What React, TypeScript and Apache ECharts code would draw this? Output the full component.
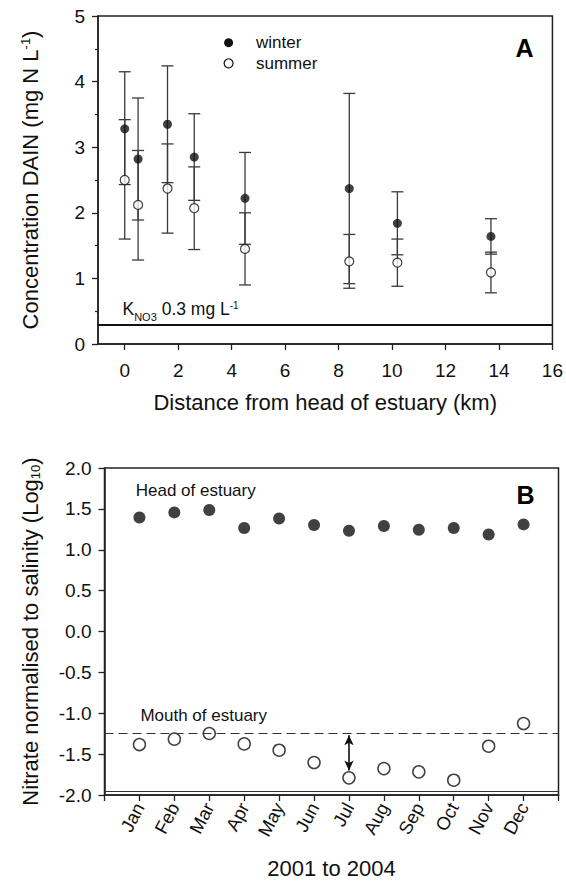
import React, { useEffect, useRef } from "react";
import * as echarts from "echarts";

// Panel A data
const distanceKm = [0, 0.5, 1.6, 2.6, 4.5, 8.4, 10.2, 13.7];
const winterMean = [3.28, 2.82, 3.35, 2.85, 2.22, 2.37, 1.84, 1.64];
const winterLow = [2.43, 1.89, 2.46, 2.19, 1.52, 0.92, 1.36, 1.37];
const winterHigh = [4.15, 3.75, 4.24, 3.51, 2.92, 3.82, 2.32, 1.91];
const summerMean = [2.5, 2.12, 2.37, 2.07, 1.45, 1.26, 1.24, 1.09];
const summerLow = [1.6, 1.28, 1.69, 1.44, 0.9, 0.85, 0.88, 0.78];
const summerHigh = [3.42, 2.95, 3.05, 2.7, 2.0, 1.67, 1.6, 1.4];
const xTicksA = [0, 2, 4, 6, 8, 10, 12, 14, 16];
const kNO3 = 0.3;

// Panel B data
const months = ["Jan", "Feb", "Mar", "Apr", "May", "Jun", "Jul", "Aug", "Sep", "Oct", "Nov", "Dec"];
const headValues = [1.395, 1.457, 1.486, 1.266, 1.383, 1.302, 1.232, 1.29, 1.245, 1.266, 1.187, 1.31];
const mouthValues = [-1.383, -1.317, -1.248, -1.375, -1.452, -1.603, -1.79, -1.677, -1.717, -1.819, -1.403, -1.126];
const mouthReference = -1.245;
const lowerLine = -1.955;
const arrowFrom = -1.27;
const arrowTo = -1.7;

const FONT = "'Liberation Sans', Arial, Helvetica, sans-serif";

function errorBarSeries(name: string, low: number[], high: number[]) {
  return {
    type: "custom",
    name,
    xAxisIndex: 0,
    yAxisIndex: 0,
    silent: true,
    z: 2,
    data: distanceKm.map((d, i) => [d, low[i], high[i]]),
    encode: { x: 0, y: [1, 2] },
    renderItem: (params: any, api: any) => {
      const x = api.value(0);
      const pLo = api.coord([x, api.value(1)]);
      const pHi = api.coord([x, api.value(2)]);
      const hw = 6;
      const style = { stroke: "#3a3a3a", lineWidth: 1.3 };
      return {
        type: "group",
        children: [
          { type: "line", shape: { x1: pLo[0], y1: pLo[1], x2: pHi[0], y2: pHi[1] }, style },
          { type: "line", shape: { x1: pLo[0] - hw, y1: pLo[1], x2: pLo[0] + hw, y2: pLo[1] }, style },
          { type: "line", shape: { x1: pHi[0] - hw, y1: pHi[1], x2: pHi[0] + hw, y2: pHi[1] }, style },
        ],
      };
    },
  };
}

export default function App() {
  const ref = useRef<HTMLDivElement>(null);
  useEffect(() => {
    if (!ref.current) return;
    const chart = echarts.init(ref.current, null, { renderer: "svg" });
    const axisLine = { show: true, onZero: false, lineStyle: { color: "#222", width: 1.5 } };
    const labelStyle = { color: "#111", fontSize: 19, fontFamily: FONT };
    const nameStyle = {
      color: "#111",
      fontSize: 22,
      fontFamily: FONT,
      rich: {
        sup: { fontSize: 13, verticalAlign: "top", fontFamily: FONT, color: "#111" },
        sub: { fontSize: 13, verticalAlign: "bottom", fontFamily: FONT, color: "#111" },
      },
    };
    const option: any = {
      animation: false,
      backgroundColor: "#fff",
      textStyle: { fontFamily: FONT },
      grid: [
        { left: 98, right: 13, top: 16, height: 328, show: true, borderColor: "#222", borderWidth: 1.5 },
        { left: 104.5, right: 7.5, top: 468, height: 327, show: true, borderColor: "#222", borderWidth: 1.5 },
      ],
      xAxis: [
        {
          type: "value",
          gridIndex: 0,
          min: -1,
          max: 16,
          axisLine,
          splitLine: { show: false },
          axisTick: { show: true, length: 6, customValues: xTicksA, lineStyle: { color: "#222", width: 1.3 } },
          axisLabel: { ...labelStyle, margin: 17, customValues: xTicksA },
          name: "Distance from head of estuary (km)",
          nameLocation: "middle",
          nameGap: 47,
          nameTextStyle: nameStyle,
        },
        {
          type: "value",
          gridIndex: 1,
          min: 0,
          max: 13,
          interval: 1,
          axisLine,
          splitLine: { show: false },
          axisTick: { show: true, length: 6, lineStyle: { color: "#222", width: 1.3 } },
          axisLabel: {
            ...labelStyle,
            fontSize: 18.5,
            rotate: 62,
            margin: 9,
            showMinLabel: true,
            showMaxLabel: true,
            formatter: (v: number) => months[Math.round(v) - 1] ?? "",
          },
          name: "2001 to 2004",
          nameLocation: "middle",
          nameGap: 62,
          nameTextStyle: nameStyle,
        },
      ],
      yAxis: [
        {
          type: "value",
          gridIndex: 0,
          min: 0,
          max: 5,
          interval: 1,
          axisLine,
          splitLine: { show: false },
          axisTick: { show: true, length: 6, lineStyle: { color: "#222", width: 1.3 } },
          minorTick: { show: true, splitNumber: 2, length: 3, lineStyle: { color: "#222", width: 1.2 } },
          axisLabel: { ...labelStyle, margin: 13 },
          name: "Concentration DAIN (mg N L{sup|-1})",
          nameLocation: "middle",
          nameGap: 57,
          nameTextStyle: nameStyle,
        },
        {
          type: "value",
          gridIndex: 1,
          min: -2,
          max: 2,
          interval: 0.5,
          axisLine,
          splitLine: { show: false },
          axisTick: { show: true, length: 6, lineStyle: { color: "#222", width: 1.3 } },
          axisLabel: { ...labelStyle, margin: 13, formatter: (v: number) => v.toFixed(1) },
          name: "Nitrate normalised to salinity (Log{sub|10})",
          nameLocation: "middle",
          nameGap: 63,
          nameTextStyle: nameStyle,
        },
      ],
      series: [
        errorBarSeries("winter error", winterLow, winterHigh),
        errorBarSeries("summer error", summerLow, summerHigh),
        {
          type: "scatter",
          name: "winter",
          xAxisIndex: 0,
          yAxisIndex: 0,
          z: 3,
          symbol: "circle",
          symbolSize: 9,
          itemStyle: { color: "#111" },
          data: distanceKm.map((d, i) => [d, winterMean[i]]),
          markLine: {
            silent: true,
            symbol: ["none", "none"],
            label: { show: false },
            lineStyle: { color: "#111", width: 2, type: "solid" },
            data: [{ yAxis: kNO3 }],
          },
        },
        {
          type: "scatter",
          name: "summer",
          xAxisIndex: 0,
          yAxisIndex: 0,
          z: 4,
          symbol: "circle",
          symbolSize: 9,
          itemStyle: { color: "#fff", borderColor: "#111", borderWidth: 1.2 },
          data: distanceKm.map((d, i) => [d, summerMean[i]]),
        },
        {
          type: "scatter",
          name: "Head of estuary",
          xAxisIndex: 1,
          yAxisIndex: 1,
          symbol: "circle",
          symbolSize: 12,
          itemStyle: { color: "#111" },
          data: months.map((m, i) => [i + 1, headValues[i]]),
        },
        {
          type: "scatter",
          name: "Mouth of estuary",
          xAxisIndex: 1,
          yAxisIndex: 1,
          z: 4,
          symbol: "circle",
          symbolSize: 12,
          itemStyle: { color: "#fff", borderColor: "#111", borderWidth: 1.5 },
          data: months.map((m, i) => [i + 1, mouthValues[i]]),
          markLine: {
            silent: true,
            label: { show: false },
            symbol: ["none", "none"],
            data: [
              { yAxis: mouthReference, lineStyle: { color: "#333", width: 1.2, type: [9, 5] } },
              { yAxis: lowerLine, lineStyle: { color: "#333", width: 1, type: "solid" } },
              [
                { coord: [7, arrowFrom], symbol: "arrow", symbolSize: [7, 10], lineStyle: { color: "#111", width: 1.6, type: "solid" } },
                { coord: [7, arrowTo], symbol: "arrow", symbolSize: [7, 10] },
              ],
            ],
          },
        },
      ],
      graphic: [
        { type: "circle", shape: { cx: 228.6, cy: 42.7, r: 4.5 }, style: { fill: "#111" } },
        { type: "circle", shape: { cx: 228.6, cy: 63.3, r: 4.5 }, style: { fill: "#fff", stroke: "#111", lineWidth: 1.2 } },
        { type: "text", x: 256, y: 42.7, style: { text: "winter", font: `17px ${FONT}`, fill: "#111", verticalAlign: "middle" } },
        { type: "text", x: 256, y: 63.3, style: { text: "summer", font: `17px ${FONT}`, fill: "#111", verticalAlign: "middle" } },
        { type: "text", x: 524.5, y: 48, style: { text: "A", font: `bold 25px ${FONT}`, fill: "#000", align: "center", verticalAlign: "middle" } },
        { type: "text", x: 525.5, y: 495, style: { text: "B", font: `bold 25px ${FONT}`, fill: "#000", align: "center", verticalAlign: "middle" } },
        {
          type: "text",
          x: 122.5,
          y: 309,
          style: {
            text: "K{sub|NO3} 0.3 mg L{sup|-1}",
            font: `17.5px ${FONT}`,
            fill: "#111",
            verticalAlign: "middle",
            rich: {
              sub: { fontSize: 11, verticalAlign: "bottom", fontFamily: FONT, fill: "#111", padding: [0, 0, -4, 0] },
              sup: { fontSize: 10, verticalAlign: "top", fontFamily: FONT, fill: "#111" },
            },
          },
        },
        { type: "text", x: 135.7, y: 490, style: { text: "Head of estuary", font: `17px ${FONT}`, fill: "#111", verticalAlign: "middle" } },
        { type: "text", x: 140.4, y: 715.7, style: { text: "Mouth of estuary", font: `17px ${FONT}`, fill: "#111", verticalAlign: "middle" } },
      ],
    };
    chart.setOption(option);
    return () => chart.dispose();
  }, []);
  return <div ref={ref} style={{ position: "fixed", left: 0, top: 0, width: 566, height: 881 }} />;
}
